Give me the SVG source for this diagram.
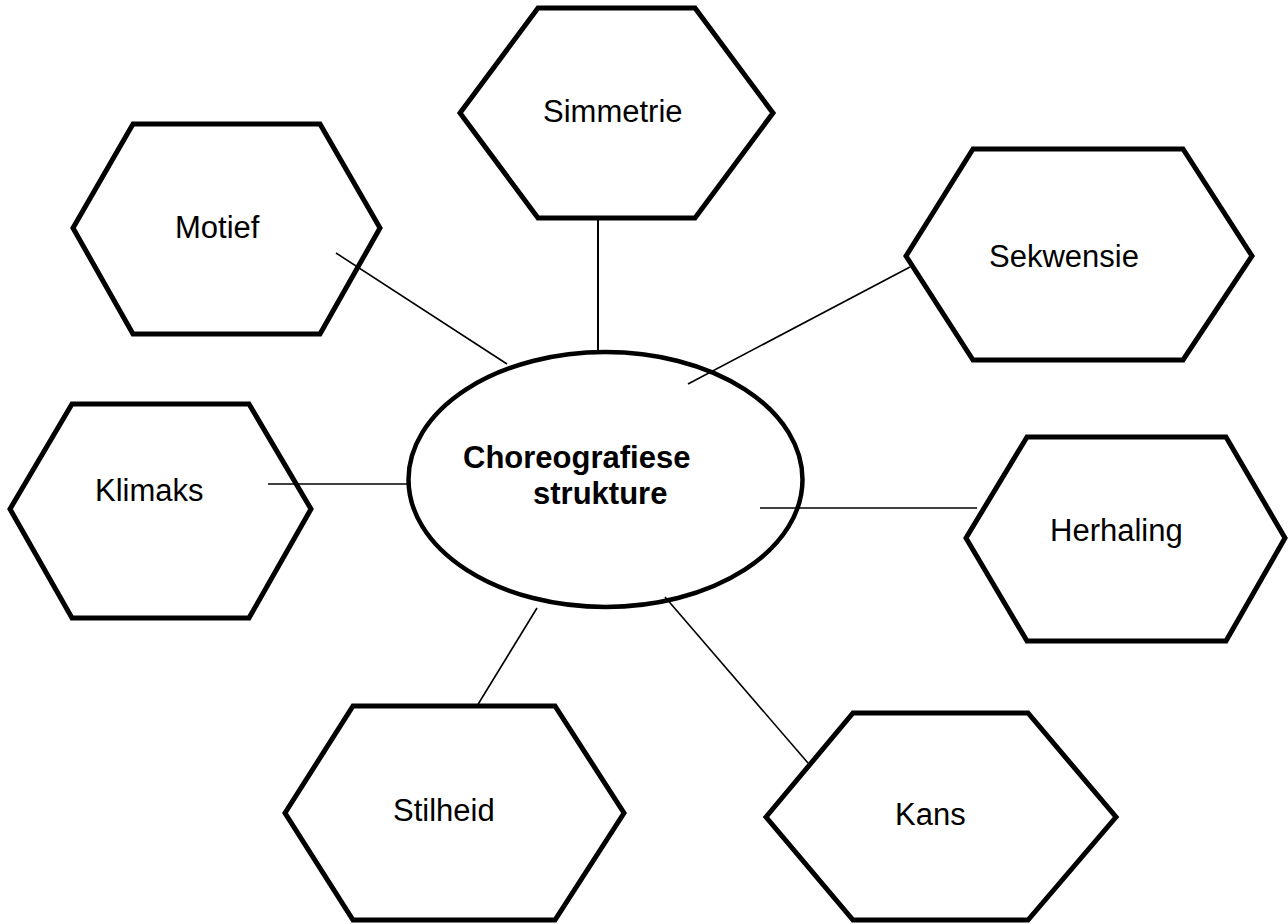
<svg xmlns="http://www.w3.org/2000/svg" width="1288" height="924" viewBox="0 0 1288 924">
<style>
.hex{fill:#fff;stroke:#000;stroke-width:5;stroke-linejoin:miter}
.ell{fill:#fff;stroke:#000;stroke-width:4.5}
.lbl{font-family:"Liberation Sans",Arial,sans-serif;font-size:31px;fill:#000}
.bold{font-weight:bold}
.con line{stroke:#000;stroke-width:1.6}
</style>
<rect width="1288" height="924" fill="#fff"/>
<g id="center">
<ellipse class="ell" cx="605.5" cy="479.5" rx="197" ry="127.5"/>
<text class="lbl bold" x="463" y="468">Choreografiese</text>
<text class="lbl bold" x="533" y="504">strukture</text>
</g>
<g id="motief">
<polygon class="hex" points="73,228 133,124 320,124 380,228 320,334 133,334"/>
<text class="lbl" x="175" y="238">Motief</text>
</g>
<g id="simmetrie">
<polygon class="hex" points="460,113 538,8 695,8 773,113 695,218 538,218"/>
<text class="lbl" x="543" y="122">Simmetrie</text>
</g>
<g id="sekwensie">
<polygon class="hex" points="906,256 973,149 1183,149 1252,256 1183,360 973,360"/>
<text class="lbl" x="989" y="267">Sekwensie</text>
</g>
<g id="klimaks">
<polygon class="hex" points="10,509 72,404 249,404 311,509 249,618 72,618"/>
<text class="lbl" x="95" y="501">Klimaks</text>
</g>
<g id="herhaling">
<polygon class="hex" points="966,538 1027,437 1226,437 1285,538 1226,641 1027,641"/>
<text class="lbl" x="1050" y="541">Herhaling</text>
</g>
<g id="stilheid">
<polygon class="hex" points="285,813 353,706 555,706 624,813 555,920 353,920"/>
<text class="lbl" x="393" y="821">Stilheid</text>
</g>
<g id="kans">
<polygon class="hex" points="766,817 853,713 1028,713 1116,817 1028,920 853,920"/>
<text class="lbl" x="895" y="825">Kans</text>
</g>
<g id="connectors" class="con">
<line x1="336" y1="253" x2="507" y2="364"/>
<line x1="598" y1="218" x2="598" y2="352" style="stroke-width:2"/>
<line x1="688" y1="384" x2="910" y2="267"/>
<line x1="268" y1="484" x2="407" y2="484"/>
<line x1="760" y1="508" x2="977" y2="508"/>
<line x1="537" y1="608" x2="477" y2="706"/>
<line x1="665" y1="597" x2="808" y2="763"/>
</g>
</svg>
